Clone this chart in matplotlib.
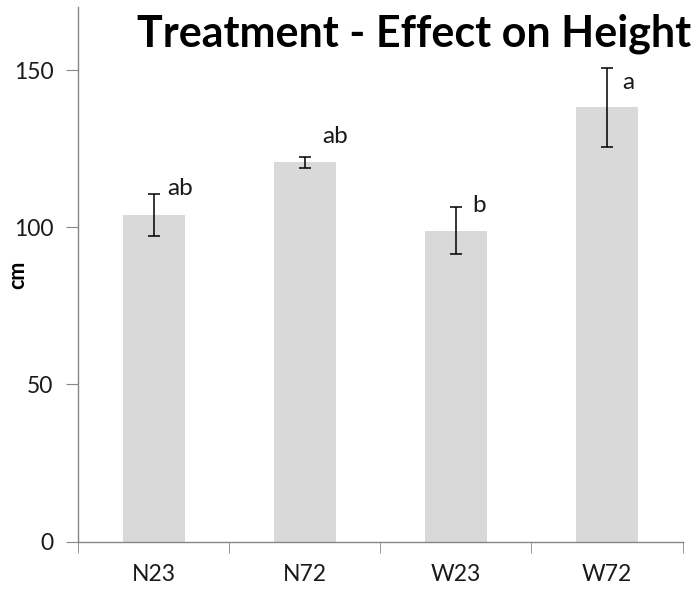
import matplotlib
matplotlib.use("Agg")
import matplotlib.pyplot as plt
import numpy as np

plt.rcParams['font.family'] = ['Lato', 'DejaVu Sans']

# data
groups = ["N23", "N72", "W23", "W72"]
heights = [103.8, 120.6, 98.9, 138.1]
errors = [6.7, 1.9, 7.5, 12.5]
letters = ["ab", "ab", "b", "a"]

# pixel offsets of the letters from the top of each error bar
letter_offsets = [(13, 6), (17, 20), (16, 2), (15, -14)]

fig = plt.figure(figsize=(7, 5.94), dpi=100)
ax = fig.add_axes([0.112, 0.088, 0.863, 0.900])

x = np.arange(len(groups))
ax.bar(x, heights, width=0.41, color="#d9d9d9", zorder=2)
ax.errorbar(x, heights, yerr=errors, fmt="none", ecolor="black",
            elinewidth=1.1, capsize=4.5, capthick=1.1, zorder=3)

for i in range(len(groups)):
    ax.annotate(letters[i], (x[i], heights[i] + errors[i]),
                xytext=letter_offsets[i], textcoords="offset pixels",
                ha="left", va="center", fontsize=17.5, color="#1a1a1a")

ax.set_xlim(-0.5, len(groups) - 0.5)
ax.set_ylim(0, 170)
ax.set_yticks([0, 50, 100, 150])

# category labels centred under bars, tick marks between categories
ax.set_xticks(x)
ax.set_xticklabels(groups)
ax.set_xticks(np.arange(-0.5, len(groups), 1), minor=True)
ax.tick_params(axis="x", which="major", length=0, pad=16, labelsize=16.5,
               labelcolor="#1a1a1a")
ax.tick_params(axis="x", which="minor", length=8, color="#868686",
               direction="out")
ax.tick_params(axis="y", length=9, color="#868686", direction="out",
               labelsize=16.5, labelcolor="#1a1a1a", pad=9)

for side in ["top", "right"]:
    ax.spines[side].set_visible(False)
for side in ["left", "bottom"]:
    ax.spines[side].set_color("#868686")
    ax.spines[side].set_linewidth(1.0)

fig.text(0.026, 0.537, "cm", rotation=90, fontsize=15.5, fontweight="bold",
         ha="center", va="center")
fig.text(0.592, 0.921, "Treatment - Effect on Height", fontsize=31,
         fontweight="bold", ha="center", va="baseline")

fig.savefig("out.png", dpi=100)
